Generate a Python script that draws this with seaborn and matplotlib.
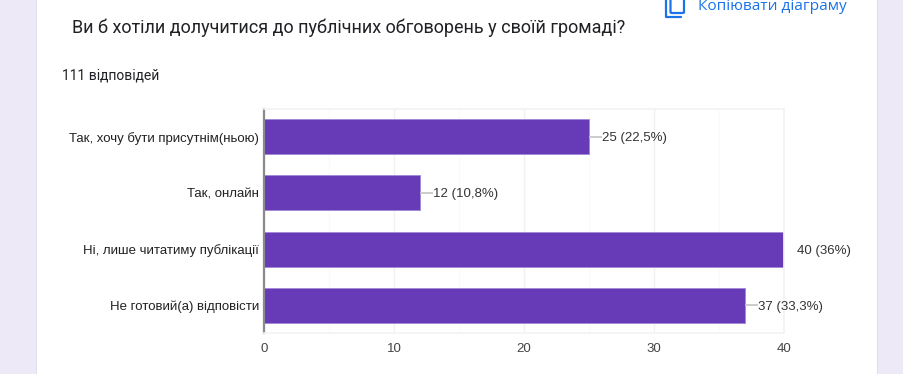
import matplotlib
matplotlib.use('Agg')
import matplotlib.pyplot as plt
from matplotlib.patches import Rectangle, FancyBboxPatch
import seaborn as sns

W, H = 904, 374

answers = ['Так, хочу бути присутнім(ньою)', 'Так, онлайн', 'Ні, лише читатиму публікації', 'Не готовий(а) відповісти']
counts = [25, 12, 40, 37]
labels = ['25 (22,5%)', '12 (10,8%)', '40 (36%)', '37 (33,3%)']
xticks = [0, 10, 20, 30, 40]

sns.set_theme(style='white')
plt.rcParams['font.family'] = ['Liberation Sans', 'DejaVu Sans']

fig = plt.figure(figsize=(W / 100, H / 100), dpi=100, facecolor='white')

# page background and the white card
fig.patches.append(Rectangle((0, 0), 37 / W, 1, transform=fig.transFigure, fc='#ede9f7', ec='none'))
fig.patches.append(Rectangle((878 / W, 0), 26 / W, 1, transform=fig.transFigure, fc='#ede9f7', ec='none'))
fig.patches.append(Rectangle((36.5 / W, 0), 1 / W, 1, transform=fig.transFigure, fc='#e0dcea', ec='none'))
fig.patches.append(Rectangle((877 / W, 0), 1 / W, 1, transform=fig.transFigure, fc='#e0dcea', ec='none'))

ax = fig.add_axes([264 / W, 1 - 333 / H, 520 / W, 224 / H])
sns.barplot(x=counts, y=answers, orient='h', color='#673ab7', saturation=1, width=0.62,
            edgecolor='#a48bd6', linewidth=0.7, ax=ax)

ax.set_xlim(0, 40)
ax.set_xticks(xticks)
ax.set_xticks([5, 15, 25, 35], minor=True)
ax.grid(axis='x', which='major', color='#f1f1f1', lw=1)
ax.grid(axis='x', which='minor', color='#fafafa', lw=1)
ax.set_axisbelow(True)
ax.tick_params(axis='x', which='both', length=0, labelsize=9.5, labelcolor='#444444', pad=7)
ax.tick_params(axis='y', length=0, labelsize=9.5, labelcolor='#222222', pad=3.5)

for side in ['top', 'right', 'bottom']:
    ax.spines[side].set_color('#f3f3f3')
ax.spines['left'].set_color('#8a8a8a')
ax.spines['left'].set_linewidth(1.6)

# leader lines and value labels, the line stays inside the axes
for i, (n, lab) in enumerate(zip(counts, labels)):
    ax.plot([n, n + 1], [i, i], color='#c4c4c4', lw=1.2, zorder=1, solid_capstyle='butt')
    ax.annotate(lab, (n, i), xytext=(9.4, 0), textcoords='offset points',
                va='center_baseline', ha='left', fontsize=9.5, color='#333333', annotation_clip=False)

# header texts
fig.text(72 / W, 1 - 28 / H, 'Ви б хотіли долучитися до публічних обговорень у своїй громаді?',
         fontsize=12.95, color='#202124', va='center', family=['Roboto', 'DejaVu Sans'])
fig.text(62 / W, 1 - 75 / H, '111 відповідей', fontsize=10, color='#202124', va='center',
         family=['Roboto', 'DejaVu Sans'])
fig.text(698 / W, 1 - 7 / H, 'Копіювати діаграму', fontsize=11.05, color='#1a73e8', va='center',
         family=['Open Sans', 'DejaVu Sans'])

# copy icon, cut by the top of the picture
fig.patches.append(FancyBboxPatch((670.5 / W, 1 - 13 / H), 13.5 / W, 17 / H, boxstyle='round,pad=0,rounding_size=0.002',
                                  transform=fig.transFigure, fc='none', ec='#1a73e8', lw=1.6))
fig.add_artist(plt.Line2D([666.5 / W, 666.5 / W, 681 / W], [1 - 0 / H, 1 - 17 / H, 1 - 17 / H],
                          color='#1a73e8', lw=1.6, transform=fig.transFigure))

fig.savefig('out.png', dpi=100)
